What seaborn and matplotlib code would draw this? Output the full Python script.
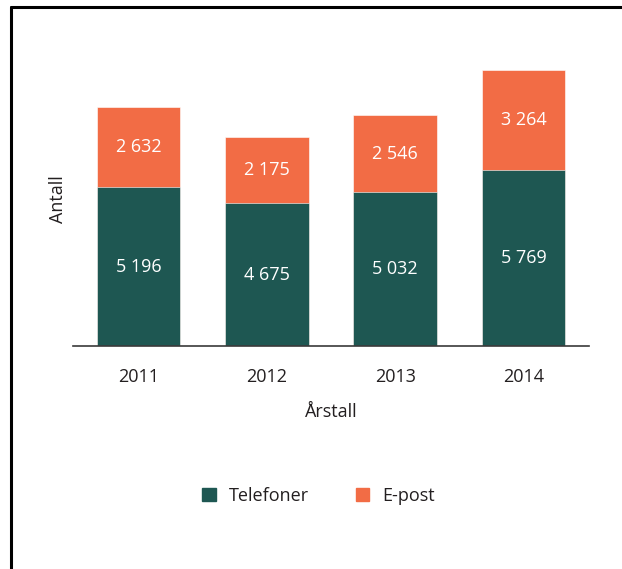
import matplotlib
matplotlib.use("Agg")
import matplotlib.pyplot as plt
from matplotlib.patches import Patch
from matplotlib.lines import Line2D
import seaborn as sns
import pandas as pd

# Data
years = ["2011", "2012", "2013", "2014"]
telefoner = [5196, 4675, 5032, 5769]
epost = [2632, 2175, 2546, 3264]

teal = "#1e5752"
orange = "#f26c45"

sns.set_style("white")
plt.rcParams["font.family"] = ["Open Sans", "DejaVu Sans"]

df = pd.DataFrame({"year": years, "Telefoner": telefoner, "E-post": epost})
df["total"] = df["Telefoner"] + df["E-post"]

fig = plt.figure(figsize=(6.22, 5.69), dpi=100)
ax = fig.add_axes([0.1174, 0.392, 0.8296, 0.536])

# Stacked bars: totals in orange, telefoner drawn on top in teal
sns.barplot(data=df, x="year", y="total", color=orange, width=0.65, saturation=1,
            edgecolor="white", linewidth=0.4, ax=ax)
sns.barplot(data=df, x="year", y="Telefoner", color=teal, width=0.65, saturation=1,
            edgecolor="white", linewidth=0.4, ax=ax)

def fmt(v):
    return f"{v:,}".replace(",", " ")

for i, row in df.iterrows():
    ax.text(i, row["Telefoner"] / 2, fmt(row["Telefoner"]), color="white",
            ha="center", va="center", fontsize=13)
    ax.text(i, row["Telefoner"] + row["E-post"] / 2, fmt(row["E-post"]),
            color="white", ha="center", va="center", fontsize=13)

ax.set_xlim(-0.51, 3.51)
ax.set_ylim(0, 10000)
ax.set_yticks([])
ax.set_xlabel("Årstall", fontsize=13, color="#231f20", labelpad=12)
ax.set_ylabel("Antall", fontsize=13, color="#231f20")
ax.yaxis.set_label_coords(-0.012, 0.48)
ax.tick_params(axis="x", length=0, labelsize=13, labelcolor="#231f20", pad=16)
for side in ["top", "right", "left"]:
    ax.spines[side].set_visible(False)
ax.spines["bottom"].set_color("#3a3a3a")
ax.spines["bottom"].set_linewidth(1.2)

handles = [Patch(color=teal, label="Telefoner"), Patch(color=orange, label="E-post")]
fig.legend(handles=handles, loc="center", bbox_to_anchor=(0.512, 0.128), ncol=2,
           frameon=False, fontsize=13, handlelength=0.75, handleheight=0.75,
           columnspacing=2.6, handletextpad=0.7, labelcolor="#231f20")

# Frame: left and top border lines
fig.add_artist(Line2D([11 / 622, 11 / 622], [0, 1 - 7 / 569], color="black", lw=2.2))
fig.add_artist(Line2D([11 / 622, 1], [1 - 7 / 569, 1 - 7 / 569], color="black", lw=2.2))

fig.savefig("out.png", dpi=100)
